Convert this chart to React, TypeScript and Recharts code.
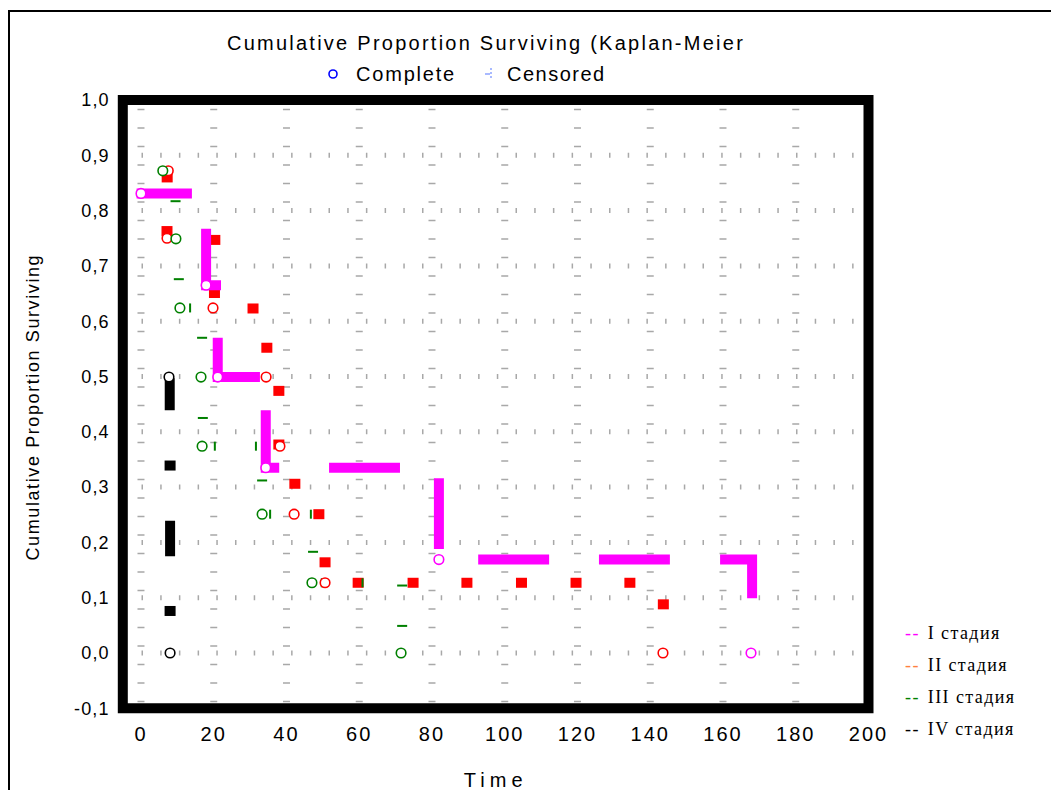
import { ComposedChart, Scatter, XAxis, YAxis, CartesianGrid, ReferenceArea } from "recharts";

const MAGENTA = "#ff00ff";
const RED = "#ff0000";
const GREEN = "#008000";
const BLACK = "#000000";

const xTicks = [0, 20, 40, 60, 80, 100, 120, 140, 160, 180, 200];
const yTicks = [-0.1, 0, 0.1, 0.2, 0.3, 0.4, 0.5, 0.6, 0.7, 0.8, 0.9, 1.0];

// I стадия: thick step pieces + complete marks
const stage1Steps = [
  [{ x: -1.2, y: 0.831 }, { x: 14.0, y: 0.831 }],
  [{ x: 17.9, y: 0.767 }, { x: 17.9, y: 0.665 }, { x: 22.0, y: 0.665 }],
  [{ x: 21.1, y: 0.57 }, { x: 21.1, y: 0.499 }, { x: 32.7, y: 0.499 }],
  [{ x: 34.3, y: 0.439 }, { x: 34.3, y: 0.335 }, { x: 38.0, y: 0.335 }],
  [{ x: 51.7, y: 0.335 }, { x: 71.2, y: 0.335 }],
  [{ x: 81.9, y: 0.316 }, { x: 81.9, y: 0.188 }],
  [{ x: 92.7, y: 0.169 }, { x: 112.2, y: 0.169 }],
  [{ x: 125.9, y: 0.169 }, { x: 145.4, y: 0.169 }],
  [{ x: 159.2, y: 0.169 }, { x: 168.0, y: 0.169 }, { x: 168.0, y: 0.099 }],
];
const stage1Complete = [
  { x: 0, y: 0.831 },
  { x: 17.9, y: 0.665 },
  { x: 21.1, y: 0.499 },
  { x: 34.3, y: 0.335 },
  { x: 81.9, y: 0.169 },
  { x: 167.7, y: 0 },
];

// II стадия
const stage2Squares = [
  { x: 7.2, y: 0.86 },
  { x: 7.15, y: 0.763 },
  { x: 20.3, y: 0.747 },
  { x: 20.2, y: 0.651 },
  { x: 30.8, y: 0.623 },
  { x: 34.6, y: 0.552 },
  { x: 37.9, y: 0.474 },
  { x: 37.9, y: 0.377 },
  { x: 42.3, y: 0.306 },
  { x: 48.9, y: 0.251 },
  { x: 50.6, y: 0.164 },
  { x: 59.7, y: 0.127 },
  { x: 74.8, y: 0.127 },
  { x: 89.6, y: 0.127 },
  { x: 104.6, y: 0.127 },
  { x: 119.6, y: 0.127 },
  { x: 134.4, y: 0.127 },
  { x: 143.6, y: 0.088 },
];
const stage2Complete = [
  { x: 7.5, y: 0.872 },
  { x: 7.15, y: 0.75 },
  { x: 19.8, y: 0.624 },
  { x: 34.4, y: 0.499 },
  { x: 38.2, y: 0.374 },
  { x: 42.1, y: 0.251 },
  { x: 50.6, y: 0.127 },
  { x: 143.5, y: 0 },
];

// III стадия
const stage3Complete = [
  { x: 6.0, y: 0.872 },
  { x: 9.6, y: 0.749 },
  { x: 10.7, y: 0.624 },
  { x: 16.5, y: 0.499 },
  { x: 16.8, y: 0.374 },
  { x: 33.3, y: 0.251 },
  { x: 47.0, y: 0.127 },
  { x: 71.5, y: 0 },
];
const stage3Steps = [
  { x: 9.5, y: 0.817 },
  { x: 10.4, y: 0.676 },
  { x: 16.8, y: 0.57 },
  { x: 17.0, y: 0.425 },
  { x: 33.3, y: 0.312 },
  { x: 47.3, y: 0.183 },
  { x: 71.8, y: 0.122 },
  { x: 71.8, y: 0.049 },
];
const stage3Censored = [
  { x: 13.5, y: 0.624 },
  { x: 20.3, y: 0.374 },
  { x: 31.6, y: 0.374 },
  { x: 35.5, y: 0.251 },
  { x: 46.7, y: 0.251 },
  { x: 49.7, y: 0.127 },
  { x: 60.9, y: 0.127 },
];

// IV стадия
const stage4Steps = [
  [{ x: 7.9, y: 0.497 }, { x: 7.9, y: 0.439 }],
  [{ x: 8.0, y: 0.239 }, { x: 8.0, y: 0.175 }],
];
const stage4Squares = [
  { x: 8.0, y: 0.339 },
  { x: 8.0, y: 0.076 },
];
const stage4Complete = [
  { x: 7.7, y: 0.499 },
  { x: 8.0, y: 0 },
];

const stageLegend = [
  { name: "I стадия", color: MAGENTA },
  { name: "II стадия", color: "#ff8040" },
  { name: "III стадия", color: GREEN },
  { name: "IV стадия", color: BLACK },
];

const SANS = "'Liberation Sans', Arial, sans-serif";
const SERIF = "'Liberation Serif', 'Times New Roman', serif";

const ring = (color: string) => (p: any) =>
  <circle cx={p.cx} cy={p.cy} r={4.8} fill="#fff" stroke={color} strokeWidth={1.6} />;
const square = (color: string) => (p: any) =>
  <rect x={p.cx - 5.5} y={p.cy - 5} width={11} height={10} fill={color} />;
const hDash = (color: string) => (p: any) =>
  <rect x={p.cx - 5} y={p.cy - 1} width={10} height={2} fill={color} />;
const vTick = (color: string) => (p: any) =>
  <rect x={p.cx - 1} y={p.cy - 4.5} width={2} height={9} fill={color} />;
const noShape = () => <g />;

function YTitle(props: any) {
  const vb = props.viewBox;
  const cx = 25;
  const cy = vb.y + vb.height / 2 + 3;
  return (
    <text x={cx} y={cy} transform={`rotate(-90 ${cx} ${cy})`} textAnchor="middle"
      dominantBaseline="central" fontFamily={SANS} fontSize={18} letterSpacing={1.6} fill="#000">
      Cumulative Proportion Surviving
    </text>
  );
}

function XTitle(props: any) {
  const vb = props.viewBox;
  return (
    <text x={vb.x + vb.width / 2} y={772} textAnchor="middle" dominantBaseline="central"
      fontFamily={SANS} fontSize={20} letterSpacing={5} fill="#000">
      Time
    </text>
  );
}

const hGrid = (p: any) => (
  <line key={p.key} x1={p.x1} y1={p.y1} x2={p.x2} y2={p.y2} stroke="#a8a8a8"
    strokeWidth={5} strokeDasharray="1.5 17.2" />
);
const vGrid = (p: any) => (
  <line key={p.key} x1={p.x1} y1={p.y1} x2={p.x2} y2={p.y2} stroke="#a8a8a8"
    strokeWidth={7} strokeDasharray="1.5 17" strokeDashoffset={9.75} />
);

export default function App() {
  return (
    <div style={{ position: "relative", width: 1043, height: 782, overflow: "hidden", background: "#fff" }}>
      <div style={{ position: "absolute", left: 0, top: 2, width: 1200, height: 1000,
        borderTop: "2px solid #000", borderLeft: "2px solid #000" }} />

      <div style={{ position: "absolute", left: 478, top: 25, transform: "translateX(-50%)",
        whiteSpace: "nowrap", fontFamily: SANS, fontSize: 20, lineHeight: "20px", letterSpacing: 2.25 }}>
        Cumulative Proportion Surviving (Kaplan-Meier
      </div>

      <svg style={{ position: "absolute", left: 319, top: 60 }} width={12} height={12}>
        <circle cx={6} cy={6} r={4} fill="#fff" stroke="#0000ff" strokeWidth={1.6} />
      </svg>
      <div style={{ position: "absolute", left: 348, top: 56, whiteSpace: "nowrap",
        fontFamily: SANS, fontSize: 20, lineHeight: "20px", letterSpacing: 1.8 }}>Complete</div>
      <svg style={{ position: "absolute", left: 476, top: 59 }} width={14} height={14}>
        <line x1={7} y1={1} x2={7} y2={13} stroke="#6f8cff" strokeWidth={1.2} strokeDasharray="2 2" />
        <line x1={1} y1={7} x2={6} y2={7} stroke="#6f8cff" strokeWidth={1.2} />
      </svg>
      <div style={{ position: "absolute", left: 499, top: 56, whiteSpace: "nowrap",
        fontFamily: SANS, fontSize: 20, lineHeight: "20px", letterSpacing: 1.5 }}>Censored</div>

      {stageLegend.map((s, i) => (
        <div key={s.name} style={{ position: "absolute", left: 897, top: 616 + i * 32, whiteSpace: "nowrap",
          fontFamily: SERIF, fontSize: 18, lineHeight: "18px", letterSpacing: 1.4 }}>
          <span style={{ color: s.color }}>--</span>
          <span style={{ marginLeft: 8 }}>{s.name}</span>
        </div>
      ))}

      <div style={{ position: "absolute", left: 0, top: 0 }}>
        <ComposedChart width={1043} height={782} margin={{ top: 92, right: 182.5, bottom: 41.7, left: 34.8 }}>
          <CartesianGrid horizontal={hGrid} vertical={vGrid} />
          <XAxis type="number" dataKey="x" domain={[-5, 200]} ticks={xTicks} allowDataOverflow
            axisLine={false} tickLine={false} tickSize={0} tickMargin={18} height={40}
            tick={{ fill: "#000", fontSize: 20, fontFamily: SANS, letterSpacing: 2 }}
            label={<XTitle />} />
          <YAxis type="number" dataKey="y" domain={[-0.1, 1.0]} ticks={yTicks} allowDataOverflow
            axisLine={false} tickLine={false} tickSize={0} tickMargin={13} width={80}
            tickFormatter={(v: number) => v.toFixed(1).replace(".", ",")}
            tick={{ fill: "#000", fontSize: 18, fontFamily: SANS, letterSpacing: 1.2 }}
            label={<YTitle />} />

          <Scatter data={stage2Squares} fill={RED} shape={square(RED)} isAnimationActive={false} />
          {stage1Steps.map((seg, i) => (
            <Scatter key={`s1-${i}`} data={seg} fill={MAGENTA} shape={noShape} lineType="joint"
              line={{ stroke: MAGENTA, strokeWidth: 10, strokeLinejoin: "miter" }} isAnimationActive={false} />
          ))}
          {stage4Steps.map((seg, i) => (
            <Scatter key={`s4-${i}`} data={seg} fill={BLACK} shape={noShape} lineType="joint"
              line={{ stroke: BLACK, strokeWidth: 10 }} isAnimationActive={false} />
          ))}
          <Scatter data={stage4Squares} fill={BLACK} shape={square(BLACK)} isAnimationActive={false} />
          <Scatter data={stage3Steps} fill={GREEN} shape={hDash(GREEN)} isAnimationActive={false} />
          <Scatter data={stage3Censored} fill={GREEN} shape={vTick(GREEN)} isAnimationActive={false} />
          <Scatter data={stage2Complete} fill={RED} shape={ring(RED)} isAnimationActive={false} />
          <Scatter data={stage3Complete} fill={GREEN} shape={ring(GREEN)} isAnimationActive={false} />
          <Scatter data={stage4Complete} fill={BLACK} shape={ring(BLACK)} isAnimationActive={false} />
          <Scatter data={stage1Complete} fill={MAGENTA} shape={ring(MAGENTA)} isAnimationActive={false} />

          <ReferenceArea x1={-5} x2={200} y1={-0.1} y2={1.0} fill="none" fillOpacity={0}
            stroke="#000" strokeWidth={10} ifOverflow="visible" />
        </ComposedChart>
      </div>
    </div>
  );
}
